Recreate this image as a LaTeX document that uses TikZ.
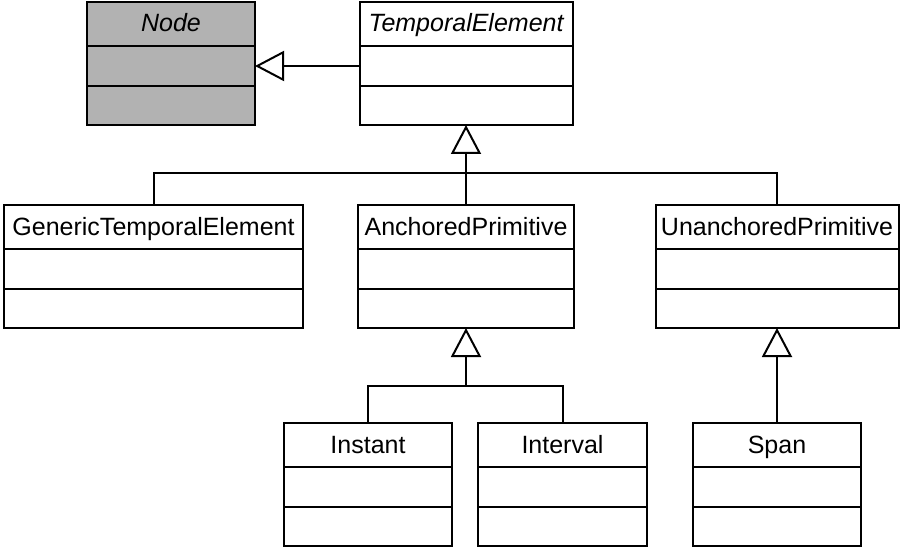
\documentclass[tikz,border=0pt]{standalone}
\usepackage{fontspec}
\setmainfont{Liberation Sans}
\usetikzlibrary{positioning,arrows.meta}

\definecolor{abstractgray}{RGB}{178,178,178}

\tikzset{
    box/.style={draw,line width=2pt,fill=white,inner sep=0pt,outer sep=0pt,minimum width=#1},
    title/.style={box=#1,minimum height=44pt,text height=22pt,text depth=6pt,font=\fontsize{25}{30}\selectfont},
    attrs/.style={box=#1,minimum height=40pt},
    ops/.style={box=#1,minimum height=39pt},
    link/.style={line width=2pt},
    inherit/.style={line width=2pt,-{Triangle[open,length=29pt,width=30pt]}}
}

\begin{document}
\begin{tikzpicture}[x=1pt,y=-1pt]
        \useasboundingbox (0,0) rectangle (904,556);

        % top row
        \node[title=168pt, fill=abstractgray] (node) at (171,24) {\itshape Node};
        \node[attrs=168pt, fill=abstractgray, below=0pt of node] (nodeA) {};
        \node[ops=168pt, fill=abstractgray, below=0pt of nodeA] (nodeO) {};

        \node[title=213pt] (te) at (466,24) {\itshape TemporalElement};
        \node[attrs=213pt, below=0pt of te] (teA) {};
        \node[ops=213pt, below=0pt of teA] (teO) {};

        % middle row
        \node[title=299pt] (gen) at (153.5,227) {GenericTemporalElement};
        \node[attrs=299pt, below=0pt of gen] (genA) {};
        \node[ops=299pt, below=0pt of genA] (genO) {};

        \node[title=216pt] (anc) at (466,227) {AnchoredPrimitive};
        \node[attrs=216pt, below=0pt of anc] (ancA) {};
        \node[ops=216pt, below=0pt of ancA] (ancO) {};

        \node[title=243pt] (unanc) at (777,227) {UnanchoredPrimitive};
        \node[attrs=243pt, below=0pt of unanc] (unancA) {};
        \node[ops=243pt, below=0pt of unancA] (unancO) {};

        % bottom row
        \node[title=168pt] (inst) at (368,445) {Instant};
        \node[attrs=168pt, below=0pt of inst] (instA) {};
        \node[ops=168pt, below=0pt of instA] (instO) {};

        \node[title=169pt] (intv) at (562.5,445) {Interval};
        \node[attrs=169pt, below=0pt of intv] (intvA) {};
        \node[ops=169pt, below=0pt of intvA] (intvO) {};

        \node[title=168pt] (span) at (777,445) {Span};
        \node[attrs=168pt, below=0pt of span] (spanA) {};
        \node[ops=168pt, below=0pt of spanA] (spanO) {};

        % generalisations
        \coordinate (tebus) at (466,173);
        \coordinate (ancbus) at (466,386);

        \draw[inherit] (teA.west) -- (nodeA.east);

        \draw[link] (gen.north) |- (tebus) -| (unanc.north);
        \draw[inherit] (anc.north) -- (teO.south);

        \draw[link] (inst.north) |- (ancbus) -| (intv.north);
        \draw[inherit] (ancbus) -- (ancO.south);

        \draw[inherit] (span.north) -- (unancO.south);
    \end{tikzpicture}
\end{document}
